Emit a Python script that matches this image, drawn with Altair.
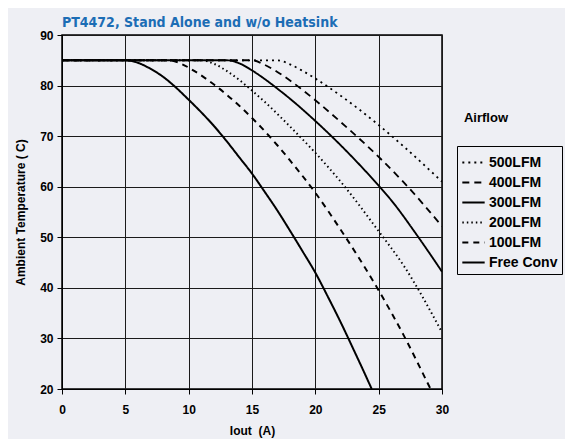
import altair as alt
import pandas as pd

title_text = ["PT4472, Stand Alone and w/o Heatsink"]
series_order = ["500LFM", "400LFM", "300LFM", "200LFM", "100LFM", "Free Conv"]

free_x = [0, 5, 6, 7, 8, 9, 10, 11, 12, 13, 14, 15, 16, 17, 18, 19, 20, 21, 22, 23, 24, 24.45]
free_y = [85, 85, 84.5, 83.3, 81.7, 79.6, 77.2, 74.7, 72, 69, 65.8, 62.6, 59, 55.3, 51.3, 47.2, 43, 38.2, 33.2, 27.9, 22.5, 20]

l100_x = [0, 8.5, 9.5, 10.5, 12, 13, 14, 15, 16, 17, 18, 20, 22, 25, 27, 29, 29.1]
l100_y = [85, 85, 84.2, 82.8, 80.2, 78.2, 76, 73.6, 71, 68.2, 65.2, 58.8, 51.5, 39.5, 30.5, 20.5, 20]

l200_x = [0, 11, 12, 13, 14, 15, 16, 17, 18, 20, 22, 25, 27, 30]
l200_y = [85, 85, 84.3, 82.9, 81.1, 79, 76.8, 74.4, 71.9, 66.7, 61, 51.2, 44.3, 31.2]

l300_x = [0, 13, 14, 15, 16, 17, 18, 20, 22, 25, 26, 28, 30]
l300_y = [85, 85, 84.4, 83, 81.3, 79.4, 77.4, 73, 68.2, 60.2, 57.3, 50.5, 43.2]

l400_x = [0, 15, 16, 17, 18, 20, 22, 25, 27, 30]
l400_y = [85, 85, 84.1, 82.7, 81, 77.1, 72.8, 65.9, 60.8, 52.2]

l500_x = [0, 17, 18, 19, 20, 22, 25, 27, 30]
l500_y = [85, 85, 84.2, 82.9, 81.4, 78, 72.2, 67.9, 61]

x_ticks = [0, 5, 10, 15, 20, 25, 30]
y_ticks = [20, 30, 40, 50, 60, 70, 80, 90]

rows = []
for name, xs, ys in [
    ("Free Conv", free_x, free_y),
    ("100LFM", l100_x, l100_y),
    ("200LFM", l200_x, l200_y),
    ("300LFM", l300_x, l300_y),
    ("400LFM", l400_x, l400_y),
    ("500LFM", l500_x, l500_y),
]:
    for i, (a, b) in enumerate(zip(xs, ys)):
        rows.append({"series": name, "iout": a, "temp": b, "order": i})
df = pd.DataFrame(rows)

dash_range = [[2, 4], [7, 5], [1, 0], [1.5, 3], [6, 5], [1, 0]]
width_range = [1.8, 2.0, 1.2, 1.2, 1.8, 1.2]

FONT = "Liberation Sans"

lines = alt.Chart(df).mark_line(color="black", interpolate="monotone", clip=True).encode(
    x=alt.X("iout:Q", scale=alt.Scale(domain=[0, 30], nice=False),
            axis=alt.Axis(values=x_ticks, title="Iout\u00a0\u00a0(A)", tickSize=5, labelPadding=10,
                          titlePadding=10, labelFlush=False)),
    y=alt.Y("temp:Q", scale=alt.Scale(domain=[20, 90], nice=False),
            axis=alt.Axis(values=y_ticks, title="Ambient Temperature ( C)", tickSize=5, labelPadding=4,
                          titlePadding=12, labelFlush=False)),
    detail="series:N",
    order="order:Q",
    strokeDash=alt.StrokeDash("series:N", scale=alt.Scale(domain=series_order, range=dash_range),
                              legend=alt.Legend(title=None, orient="none", legendX=395, legendY=111,
                                                strokeColor="black", padding=4, symbolType="stroke",
                                                symbolSize=500, symbolStrokeColor="black",
                                                labelFontSize=14, labelFontWeight="bold", labelFont=FONT,
                                                labelColor="black", rowPadding=0, labelOffset=3)),
    strokeWidth=alt.StrokeWidth("series:N", scale=alt.Scale(domain=series_order, range=width_range),
                                legend=None),
)

airflow = alt.Chart(pd.DataFrame({"t": ["Airflow"]})).mark_text(
    font=FONT, fontSize=13, fontWeight="bold", color="black", baseline="middle", align="center"
).encode(x=alt.value(424), y=alt.value(83), text="t:N")

title = alt.Chart(pd.DataFrame({"t": title_text})).mark_text(
    font="DejaVu Sans Condensed, Liberation Sans", fontSize=14, fontWeight="bold", color="#1c6db5",
    baseline="alphabetic", align="left"
).encode(x=alt.value(0), y=alt.value(-8), text="t:N")

chart = alt.layer(lines, airflow, title).properties(
    width=380, height=354,
    autosize=alt.AutoSizeParams(type="none"),
    padding={"left": 54, "top": 27, "right": 123, "bottom": 50},
    background="#eeeff4",
).configure_view(stroke="black", strokeWidth=1.5).configure_axis(
    labelFont=FONT, labelFontSize=12, labelFontWeight="bold", labelColor="black",
    titleFont=FONT, titleFontSize=12, titleFontWeight="bold", titleColor="black",
    gridColor="#1a1a1a", gridOpacity=1, gridWidth=1, domainColor="black", tickColor="black",
)

chart.save("out.html", embed_options={"renderer": "svg", "actions": False})
